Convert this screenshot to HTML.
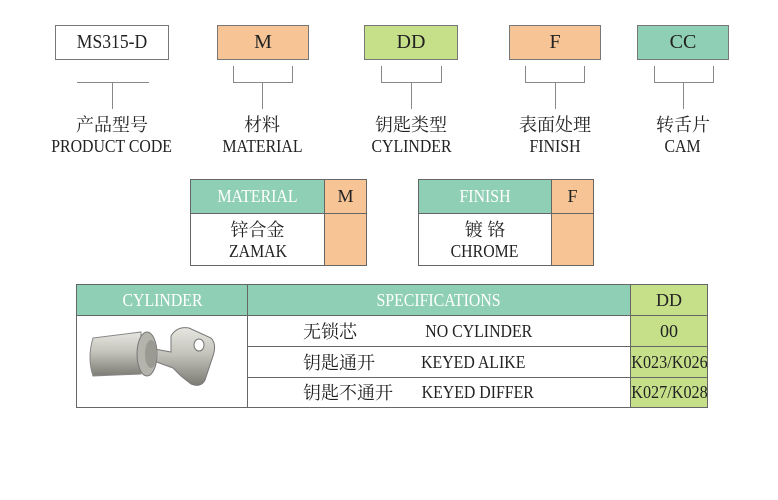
<!DOCTYPE html>
<html><head><meta charset="utf-8"><style>
body{margin:0;width:778px;height:500px;background:#fff;position:relative;overflow:hidden;font-family:"Liberation Serif","Noto Serif CJK SC",serif;color:#222}
.a{position:absolute;box-sizing:border-box}
.box{border:1px solid #777;text-align:center;font-size:20px;line-height:33px;height:35px;top:25px}
.ln{position:absolute;background:#888}
.lab{position:absolute;text-align:center;width:160px;font-size:18px;line-height:21px}
.cn{font-family:"Noto Serif CJK SC",serif;}
.t{border:1px solid #666}
.teal{background:#8fcfb6;color:#fff}
.or{background:#f6c495}
.gr{background:#c6e08a}
.c{text-align:center}
.n{display:inline-block;transform:scaleX(.88)}
</style></head><body>
<div class="a box" style="left:55px;width:114px;background:#fff"><span class="n">MS315-D</span></div>
<div class="a box or" style="left:217px;width:92px">M</div>
<div class="a box gr" style="left:364px;width:94px">DD</div>
<div class="a box or" style="left:509px;width:92px">F</div>
<div class="a box teal" style="left:637px;width:92px;color:#222">CC</div>

<div class="ln" style="left:77px;top:82px;width:72px;height:1px"></div>
<div class="ln" style="left:112px;top:82px;width:1px;height:27px"></div>

<div class="ln" style="left:233px;top:66px;width:1px;height:17px"></div><div class="ln" style="left:292px;top:66px;width:1px;height:17px"></div><div class="ln" style="left:233px;top:82px;width:60px;height:1px"></div><div class="ln" style="left:262px;top:82px;width:1px;height:27px"></div>
<div class="ln" style="left:381px;top:66px;width:1px;height:17px"></div><div class="ln" style="left:441px;top:66px;width:1px;height:17px"></div><div class="ln" style="left:381px;top:82px;width:61px;height:1px"></div><div class="ln" style="left:411px;top:82px;width:1px;height:27px"></div>
<div class="ln" style="left:525px;top:66px;width:1px;height:17px"></div><div class="ln" style="left:584px;top:66px;width:1px;height:17px"></div><div class="ln" style="left:525px;top:82px;width:60px;height:1px"></div><div class="ln" style="left:555px;top:82px;width:1px;height:27px"></div>
<div class="ln" style="left:654px;top:66px;width:1px;height:17px"></div><div class="ln" style="left:713px;top:66px;width:1px;height:17px"></div><div class="ln" style="left:654px;top:82px;width:60px;height:1px"></div><div class="ln" style="left:683px;top:82px;width:1px;height:27px"></div>

<div class="lab" style="left:32px;top:114px"><span class="cn">产品型号</span><br><span class="n">PRODUCT CODE</span></div>
<div class="lab" style="left:182px;top:114px"><span class="cn">材料</span><br><span class="n">MATERIAL</span></div>
<div class="lab" style="left:331px;top:114px"><span class="cn">钥匙类型</span><br><span class="n">CYLINDER</span></div>
<div class="lab" style="left:475px;top:114px"><span class="cn">表面处理</span><br><span class="n">FINISH</span></div>
<div class="lab" style="left:603px;top:114px"><span class="cn">转舌片</span><br><span class="n">CAM</span></div>

<div class="a t teal c" style="left:190px;top:179px;width:135px;height:35px;font-size:18px;line-height:33px"><span class="n">MATERIAL</span></div>
<div class="a t or c" style="left:324px;top:179px;width:43px;height:35px;font-size:18px;line-height:33px">M</div>
<div class="a t c" style="left:190px;top:213px;width:135px;height:53px;font-size:18px;line-height:21px;padding-top:5px"><span class="cn">锌合金</span><br><span class="n">ZAMAK</span></div>
<div class="a t or" style="left:324px;top:213px;width:43px;height:53px"></div>

<div class="a t teal c" style="left:418px;top:179px;width:134px;height:35px;font-size:18px;line-height:33px"><span class="n">FINISH</span></div>
<div class="a t or c" style="left:551px;top:179px;width:43px;height:35px;font-size:18px;line-height:33px">F</div>
<div class="a t c" style="left:418px;top:213px;width:134px;height:53px;font-size:18px;line-height:21px;padding-top:5px"><span class="cn">镀 铬</span><br><span class="n">CHROME</span></div>
<div class="a t or" style="left:551px;top:213px;width:43px;height:53px"></div>

<div class="a t teal c" style="left:76px;top:284px;width:172px;height:32px;font-size:18px;line-height:30px"><span class="n">CYLINDER</span></div>
<div class="a t teal c" style="left:247px;top:284px;width:384px;height:32px;font-size:18px;line-height:30px"><span class="n">SPECIFICATIONS</span></div>
<div class="a t gr c" style="left:630px;top:284px;width:78px;height:32px;font-size:18px;line-height:30px">DD</div>
<div class="a t" style="left:76px;top:315px;width:172px;height:93px">
<svg width="170" height="91" viewBox="0 0 170 91">
<defs><linearGradient id="g" x1="0" y1="0" x2="0" y2="1"><stop offset="0" stop-color="#e6e6e0"/><stop offset=".45" stop-color="#c4c4bc"/><stop offset="1" stop-color="#7c7c74"/></linearGradient></defs>
<path d="M94 20 Q100 10 112 12 L134 22 Q140 28 136 40 L128 64 Q124 72 114 68 L104 60 L96 52 L74 44 L72 32 L94 36 Z" fill="url(#g)" stroke="#777"/>
<ellipse cx="122" cy="29" rx="5" ry="6" fill="#fff" stroke="#777"/>
<path d="M16 22 L64 16 L64 58 L16 60 Q10 42 16 22 Z" fill="url(#g)" stroke="#888"/>
<ellipse cx="70" cy="38" rx="10" ry="22" fill="#b4b4ac" stroke="#777"/>
<ellipse cx="74" cy="38" rx="6" ry="14" fill="#9a9a92"/>
</svg></div>
<div class="a t" style="left:247px;top:315px;width:384px;height:32px;font-size:18px;line-height:30px"><span class="cn" style="position:absolute;left:55px">无锁芯</span><span class="n" style="position:absolute;left:170px">NO CYLINDER</span></div>
<div class="a t" style="left:247px;top:346px;width:384px;height:32px;font-size:18px;line-height:30px"><span class="cn" style="position:absolute;left:55px">钥匙通开</span><span class="n" style="position:absolute;left:166px">KEYED ALIKE</span></div>
<div class="a t" style="left:247px;top:377px;width:384px;height:31px;font-size:18px;line-height:29px"><span class="cn" style="position:absolute;left:55px">钥匙不通开</span><span class="n" style="position:absolute;left:166px">KEYED DIFFER</span></div>
<div class="a t gr c" style="left:630px;top:315px;width:78px;height:32px;font-size:18px;line-height:30px">00</div>
<div class="a t gr c" style="left:630px;top:346px;width:78px;height:32px;font-size:18px;line-height:30px;white-space:nowrap;overflow:hidden"><span style="display:inline-block;transform:scaleX(.9);margin:0 -20px">K023/K026</span></div>
<div class="a t gr c" style="left:630px;top:377px;width:78px;height:31px;font-size:18px;line-height:29px;white-space:nowrap;overflow:hidden"><span style="display:inline-block;transform:scaleX(.9);margin:0 -20px">K027/K028</span></div>
</body></html>
